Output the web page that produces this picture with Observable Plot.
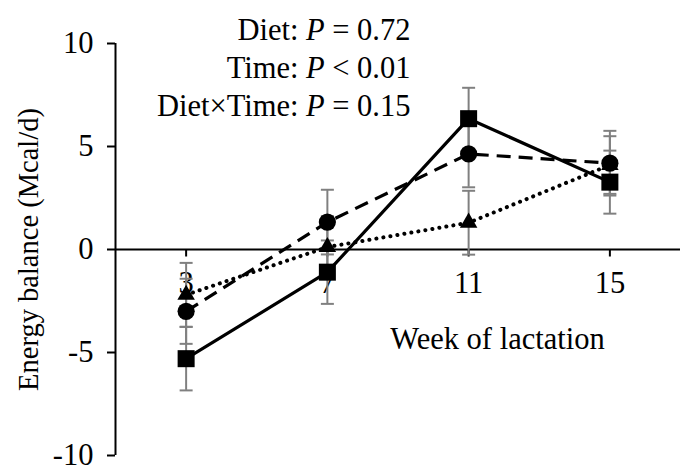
<!DOCTYPE html>
<html>
<head>
<meta charset="utf-8">
<script src="https://cdn.jsdelivr.net/npm/d3@7"></script>
<script src="https://cdn.jsdelivr.net/npm/@observablehq/plot@0.6"></script>
<style>
  html, body { margin: 0; padding: 0; background: #fff; }
  svg { font-family: "Liberation Serif", "Times New Roman", serif; }
</style>
</head>
<body>
<div id="chart"></div>
<script>
// ---- data ----
const weeks = [3, 7, 11, 15];
const squareEB = [-5.3, -1.1, 6.35, 3.27];
const squareSE = [1.54, 1.54, 1.5, 1.53];
const circleEB = [-3.0, 1.33, 4.64, 4.19];
const circleSE = [1.58, 1.57, 1.62, 1.57];
const triangleEB = [-2.2, 0.12, 1.3, 4.1];
const triangleSE = [1.55, 1.5, 1.55, 1.4];
const yTicks = [-10, -5, 0, 5, 10];
const xTicks = weeks;
const yLabel = "Energy balance (Mcal/d)";
const xLabel = "Week of lactation";
const statLines = [
  ["Diet: ", "P", " = 0.72"],
  ["Time: ", "P", " < 0.01"],
  ["Diet\u00d7Time: ", "P", " = 0.15"]
];

const series = [
  {name: "square", values: squareEB, se: squareSE, symbol: "square", r: 9.6, dash: null},
  {name: "circle", values: circleEB, se: circleSE, symbol: "circle", r: 8.6, dash: "14,8"},
  {name: "triangle", values: triangleEB, se: triangleSE, symbol: "triangle", r: 6.5, dash: "0.1,7"}
];
const rows = series.flatMap(s => weeks.map((w, i) => ({
  series: s.name, week: w, eb: s.values[i], lo: s.values[i] - s.se[i], hi: s.values[i] + s.se[i]
})));

const capSymbol = {draw(ctx) { ctx.moveTo(-6.5, 0); ctx.lineTo(6.5, 0); }};
const tickDown = {draw(ctx) { ctx.moveTo(0, 0); ctx.lineTo(0, 7); }};
const FS = 30.5;

const marks = [
  Plot.ruleY([0], {stroke: "black", strokeWidth: 2}),
  Plot.dot(xTicks, {x: d => d, y: () => 0, symbol: tickDown, stroke: "black", strokeWidth: 2, fill: "none"}),
  Plot.text(xTicks, {x: d => d, y: () => 0, text: d => String(d), dy: 43, lineAnchor: "bottom", fontSize: FS, fill: "black"}),
  Plot.ruleX([1], {stroke: "black", strokeWidth: 2}),
  Plot.axisY(yTicks, {tickSize: 8, tickPadding: 14, fontSize: FS, strokeWidth: 2, label: null, tickFormat: d => String(d), fill: "black", stroke: "black"}),
  Plot.text([yLabel], {frameAnchor: "left", rotate: -90, dx: -87, textAnchor: "middle", lineAnchor: "middle", fontSize: 28.5, fill: "black"}),
  Plot.text([xLabel], {frameAnchor: "top-left", dx: 382, dy: 305, textAnchor: "middle", lineAnchor: "bottom", fontSize: FS, fill: "black"}),
  Plot.ruleX(rows, {x: "week", y1: "lo", y2: "hi", stroke: "#808080", strokeWidth: 2}),
  Plot.dot(rows, {x: "week", y: "lo", symbol: capSymbol, stroke: "#808080", strokeWidth: 2, fill: "none"}),
  Plot.dot(rows, {x: "week", y: "hi", symbol: capSymbol, stroke: "#808080", strokeWidth: 2, fill: "none"}),
  ...series.map(s => Plot.line(rows.filter(r => r.series === s.name), {
    x: "week", y: "eb", stroke: "black",
    strokeWidth: s.name === "triangle" ? 4 : 3.2,
    strokeDasharray: s.dash, strokeLinecap: s.name === "triangle" ? "round" : "butt"
  })),
  ...series.slice().reverse().map(s => Plot.dot(rows.filter(r => r.series === s.name), {
    x: "week", y: "eb", symbol: s.symbol, r: s.r, fill: "black", stroke: "none"
  })),
  ...statLines.map((l, i) => Plot.text([l.join("")], {
    frameAnchor: "top-left", dx: 295, dy: -4 + i * 38, textAnchor: "end", lineAnchor: "bottom", fontSize: FS, fill: "black"
  }))
];

const chart = Plot.plot({
  width: 680,
  height: 467,
  marginLeft: 115,
  marginRight: 0,
  marginTop: 43,
  marginBottom: 12,
  x: {domain: [1, 17], axis: null},
  y: {domain: [-10, 10]},
  style: {fontFamily: '"Liberation Serif", "Times New Roman", serif', background: "white", overflow: "visible"},
  marks
});

// italic P in stats lines
d3.select(chart).selectAll("text").each(function() {
  const t = this.textContent;
  const line = statLines.find(l => l.join("") === t);
  if (!line) return;
  const el = d3.select(this);
  el.text(null);
  el.append("tspan").text(line[0]);
  el.append("tspan").attr("font-style", "italic").text(line[1]);
  el.append("tspan").text(line[2]);
});

document.getElementById("chart").appendChild(chart);
</script>
</body>
</html>
